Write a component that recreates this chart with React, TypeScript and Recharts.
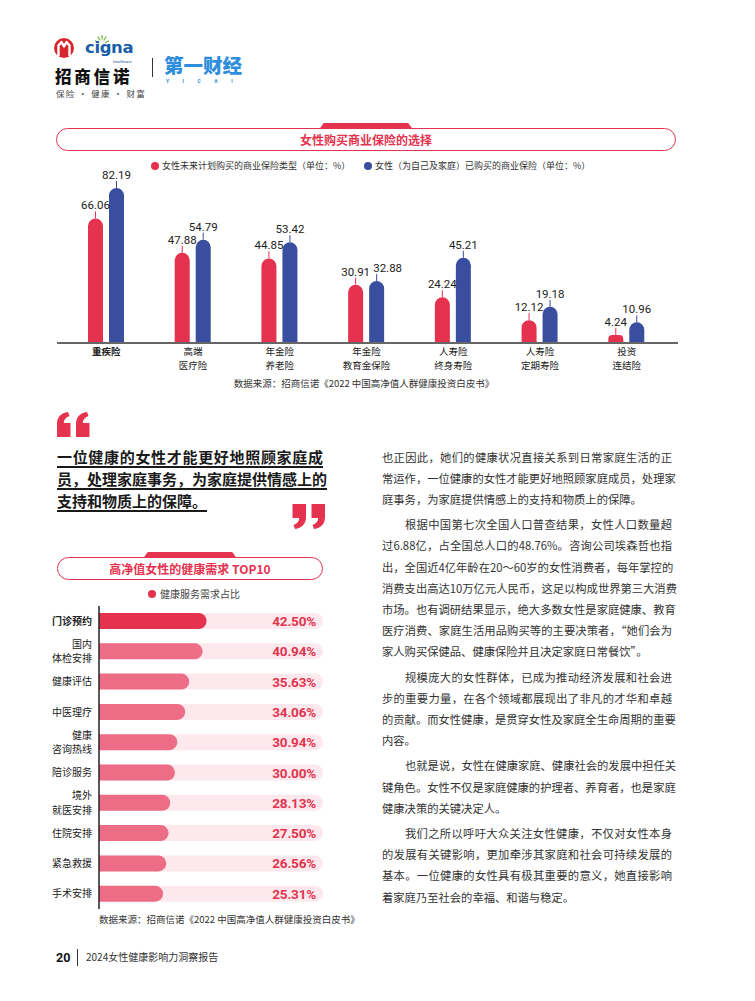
import React from 'react';
import { BarChart, Bar, XAxis, YAxis, Cell, LabelList } from 'recharts';

const CJK = "'Noto Sans CJK SC', 'Noto Sans', sans-serif";
const NUM = "Roboto, 'Noto Sans', sans-serif";
const RED = '#E5324F';
const BLUE = '#3A4E9F';
const PINK = '#EE6D86';
const TRACK = '#FDE9ED';

// 女性购买商业保险的选择
const insuranceTypes = ['重疾险', '高端\n医疗险', '年金险\n养老险', '年金险\n教育金保险', '人寿险\n终身寿险', '人寿险\n定期寿险', '投资\n连结险'];
const planToBuy = [66.06, 47.88, 44.85, 30.91, 24.24, 12.12, 4.24];
const alreadyBought = [82.19, 54.79, 53.42, 32.88, 45.21, 19.18, 10.96];

// 高净值女性的健康需求 TOP10
const needs = ['门诊预约', '国内\n体检安排', '健康评估', '中医理疗', '健康\n咨询热线', '陪诊服务', '境外\n就医安排', '住院安排', '紧急救援', '手术安排'];
const needShares = [42.5, 40.94, 35.63, 34.06, 30.94, 30.0, 28.13, 27.5, 26.56, 25.31];

const bodyParas = [
  ['也正因此，她们的健康状况直接关系到日常家庭生活的正', '常运作，一位健康的女性才能更好地照顾家庭成员，处理家', '庭事务，为家庭提供情感上的支持和物质上的保障。'],
  ['根据中国第七次全国人口普查结果，女性人口数量超', '过6.88亿，占全国总人口的48.76%。咨询公司埃森哲也指', '出，全国近4亿年龄在20～60岁的女性消费者，每年掌控的', '消费支出高达10万亿元人民币，这足以构成世界第三大消费', '市场。也有调研结果显示，绝大多数女性是家庭健康、教育', '医疗消费、家庭生活用品购买等的主要决策者，“她们会为', '家人购买保健品、健康保险并且决定家庭日常餐饮”。'],
  ['规模庞大的女性群体，已成为推动经济发展和社会进', '步的重要力量，在各个领域都展现出了非凡的才华和卓越', '的贡献。而女性健康，是贯穿女性及家庭全生命周期的重要', '内容。'],
  ['也就是说，女性在健康家庭、健康社会的发展中担任关', '键角色。女性不仅是家庭健康的护理者、养育者，也是家庭', '健康决策的关键决定人。'],
  ['我们之所以呼吁大众关注女性健康，不仅对女性本身', '的发展有关键影响，更加牵涉其家庭和社会可持续发展的', '基本。一位健康的女性具有极其重要的意义，她直接影响', '着家庭乃至社会的幸福、和谐与稳定。'],
];

const quoteLines = ['一位健康的女性才能更好地照顾家庭成', '员，处理家庭事务，为家庭提供情感上的', '支持和物质上的保障。'];

const SOURCE = '数据来源：招商信诺《2022 中国高净值人群健康投资白皮书》';

const insuranceData = insuranceTypes.map((name, i) => ({ name, plan: planToBuy[i], bought: alreadyBought[i] }));
const needData = needs.map((name, i) => ({ name, share: needShares[i] }));

// text helper, y is the vertical centre
const T = ({ x, y, size, center, style, children }: any) => (
  <div
    style={{
      position: 'absolute', left: x, top: y, fontSize: size, lineHeight: 1.2,
      transform: center ? 'translate(-50%, -50%)' : 'translateY(-50%)',
      whiteSpace: 'nowrap', fontFamily: CJK, color: '#222', ...style,
    }}
  >
    {children}
  </div>
);

function ValueMark(props: any, color: string, nudge: boolean) {
  const { x, y, width, value, index } = props;
  const cx = x + width / 2;
  // the blue label moves right when both bars of a pair are about as tall
  const dx = nudge && Math.abs(planToBuy[index] - alreadyBought[index]) < 5 ? 11 : 0;
  return (
    <g>
      <line x1={cx} x2={cx} y1={y} y2={y - 7} stroke={color} strokeWidth={1} />
      <text x={cx + dx} y={y - 9} textAnchor="middle" fontSize={11.5} fill="#222" fontFamily={NUM}>
        {Number(value).toFixed(2)}
      </text>
    </g>
  );
}

function CategoryTick({ x, y, payload }: any) {
  const lines = String(payload.value).split('\n');
  const bold = payload.value === insuranceTypes[0];
  return (
    <text x={x} y={y + 12.3} textAnchor="middle" fontSize={9.5} fontFamily={CJK} fontWeight={bold ? 700 : 400} fill="#222">
      {lines.map((t, i) => (
        <tspan key={i} x={x} dy={i === 0 ? 0 : 13.9}>{t}</tspan>
      ))}
    </text>
  );
}

function NeedTick({ x, y, payload }: any) {
  const lines = String(payload.value).split('\n');
  const bold = payload.value === needs[0];
  const gap = 14.6;
  const start = y - ((lines.length - 1) * gap) / 2;
  return (
    <text x={x} y={start + 3.6} textAnchor="end" fontSize={10} fontFamily={CJK} fontWeight={bold ? 700 : 400} fill="#222">
      {lines.map((t, i) => (
        <tspan key={i} x={x} dy={i === 0 ? 0 : gap}>{t}</tspan>
      ))}
    </text>
  );
}

function QuoteMark({ left, top, flip }: any) {
  const drop = 'M0 25 L0 12 C0 5 4 1 11 0 L12.5 4 C8.5 5.5 6.8 8 6.8 11 L13.5 11 L13.5 25 Z';
  return (
    <svg style={{ position: 'absolute', left, top }} width={33} height={26} viewBox="0 0 33 26">
      <g fill={RED} transform={flip ? 'rotate(180 16.5 12.5)' : undefined}>
        <path d={drop} />
        <path d={drop} transform="translate(19 0)" />
      </g>
    </svg>
  );
}

function TitlePill({ left, width, top, title }: any) {
  const cx = left + width / 2;
  return (
    <>
      <div style={{ position: 'absolute', left: cx - 48, top: top - 5, width: 96, height: 8, background: RED, borderRadius: '4px 4px 0 0', clipPath: 'polygon(6% 0, 94% 0, 100% 100%, 0 100%)' }} />
      <div style={{ position: 'absolute', left, top, width, height: 23, border: `1.3px solid ${RED}`, borderRadius: 13, background: '#fff', boxSizing: 'border-box' }} />
      <T x={cx} y={top + 12} size={12} center style={{ color: RED, fontWeight: 700 }}>{title}</T>
    </>
  );
}

const Dot = ({ x, y, color }: any) => (
  <div style={{ position: 'absolute', left: x - 4, top: y - 4, width: 8, height: 8, borderRadius: 4, background: color }} />
);

function Header() {
  return (
    <>
      <svg style={{ position: 'absolute', left: 50, top: 34 }} width={100} height={34} viewBox="0 0 100 34">
        <circle cx={14} cy={14} r={10} fill="#D9262E" />
        <polyline points="8.5,22 8.5,11.5 11.5,8 14,12.5 16.5,8 19.5,11.5 19.5,22" fill="none" stroke="#fff" strokeWidth={2.4} strokeLinejoin="round" />
        <g stroke="#6BB33A" strokeWidth={1.2} strokeLinecap="round">
          <line x1={50} y1={6} x2={48} y2={3} />
          <line x1={52} y1={5} x2={52} y2={1.5} />
          <line x1={54} y1={6} x2={56} y2={3} />
          <line x1={48.5} y1={8.5} x2={45.5} y2={7} />
          <line x1={55.5} y1={8.5} x2={58.5} y2={7} />
        </g>
      </svg>
      <div style={{ position: 'absolute', left: 85, top: 40, fontSize: 16.5, fontWeight: 700, color: '#1A5EA8', fontFamily: "'DejaVu Sans', sans-serif", lineHeight: 1, letterSpacing: -0.4 }}>cigna</div>
      <div style={{ position: 'absolute', left: 113, top: 60, fontSize: 4, color: '#1A5EA8', fontFamily: 'Roboto', lineHeight: 1 }}>healthcare</div>
      <T x={55} y={77} size={16.5} style={{ fontWeight: 900, letterSpacing: 2.8, color: '#111' }}>招商信诺</T>
      <T x={56} y={92.5} size={8.5} style={{ letterSpacing: 1.2, color: '#444' }}>保险 · 健康 · 财富</T>
      <div style={{ position: 'absolute', left: 151.5, top: 58, width: 1, height: 19, background: '#333' }} />
      <T x={164} y={65} size={19.5} style={{ fontWeight: 900, color: '#2F8EDB', letterSpacing: 0 }}>第一财经</T>
      <T x={166} y={80.5} size={5} style={{ color: '#2F8EDB', letterSpacing: 13.5, fontFamily: NUM, fontWeight: 700 }}>YICAI</T>
    </>
  );
}

function BodyText() {
  const rows: any[] = [];
  let y = 456.5;
  bodyParas.forEach((para, p) => {
    para.forEach((line, i) => {
      const last = i === para.length - 1;
      const first = i === 0 && p > 0;
      rows.push(
        <div key={`${p}-${i}`} style={{
          position: 'absolute', left: first ? 405 : 382, top: y - 8, width: first ? 267 : 290,
          fontSize: 11.3, lineHeight: '16px', fontFamily: CJK, color: '#333',
          textAlign: 'justify', textAlignLast: last ? 'left' : 'justify', whiteSpace: 'nowrap',
        }}>{line}</div>
      );
      y += 21.2;
    });
    y += 4;
  });
  return <>{rows}</>;
}

export default function App() {
  return (
    <div style={{ position: 'relative', width: 755, height: 1001, background: '#fff', overflow: 'hidden', fontFamily: CJK }}>
      <style>{'body{margin:0}'}</style>
      <Header />

      {/* chart 1 */}
      <TitlePill left={56} width={620} top={128} title="女性购买商业保险的选择" />
      <Dot x={155} y={166} color={RED} />
      <T x={162} y={166} size={9} style={{ color: '#333' }}>女性未来计划购买的商业保险类型（单位：%）</T>
      <Dot x={368} y={166} color={BLUE} />
      <T x={375} y={166} size={9} style={{ color: '#333' }}>女性（为自己及家庭）已购买的商业保险（单位：%）</T>
      <div style={{ position: 'absolute', left: 40, top: 150 }}>
        <BarChart width={660} height={240} data={insuranceData} margin={{ top: 4.5, right: 22, bottom: 0, left: 17 }} barSize={15} barGap={6}>
          <XAxis dataKey="name" height={47} interval={0} padding={{ left: 6, right: 8 }} tickLine={false} tickSize={0} tickMargin={0}
            axisLine={{ stroke: '#666', strokeWidth: 2 }} tick={<CategoryTick />} />
          <YAxis hide domain={[0, 100]} />
          <Bar dataKey="plan" fill={RED} radius={[7.5, 7.5, 0, 0]} isAnimationActive={false}>
            <LabelList dataKey="plan" content={(p: any) => ValueMark(p, RED, false)} />
          </Bar>
          <Bar dataKey="bought" fill={BLUE} radius={[7.5, 7.5, 0, 0]} isAnimationActive={false}>
            <LabelList dataKey="bought" content={(p: any) => ValueMark(p, BLUE, true)} />
          </Bar>
        </BarChart>
      </div>
      <T x={364} y={384} size={9.5} center style={{ color: '#333' }}>{SOURCE}</T>

      {/* quote */}
      <QuoteMark left={57} top={412} />
      {quoteLines.map((line, i) => (
        <div key={i} style={{
          position: 'absolute', left: 57, top: 457 + i * 22 - 10, width: i < 2 ? 266 : undefined,
          fontSize: 15, lineHeight: '20px', fontWeight: 700, color: '#1a1a1a', fontFamily: CJK,
          textAlign: 'justify', textAlignLast: i < 2 ? 'justify' : 'left', whiteSpace: 'nowrap',
          textDecoration: 'underline', textDecorationThickness: '1.5px', textUnderlineOffset: '3px',
        }}>{line}</div>
      ))}
      <QuoteMark left={292} top={504} flip />

      <BodyText />

      {/* chart 2 */}
      <TitlePill left={57} width={266} top={557} title="高净值女性的健康需求 TOP10" />
      <Dot x={152} y={594} color={RED} />
      <T x={160} y={594} size={10} style={{ color: '#444' }}>健康服务需求占比</T>
      <div style={{ position: 'absolute', left: 40, top: 600 }}>
        <BarChart width={300} height={320} data={needData} layout="vertical" margin={{ top: 6, right: 17, bottom: 11, left: 0 }} barSize={16}>
          <XAxis type="number" hide domain={[0, 88.5]} />
          <YAxis type="category" dataKey="name" width={59} interval={0} tickLine={false} tickSize={0} tickMargin={7}
            axisLine={{ stroke: '#222', strokeWidth: 1.5 }} tick={<NeedTick />} />
          <Bar dataKey="share" radius={[0, 8, 8, 0]} background={{ fill: TRACK, radius: [0, 8, 8, 0] } as any} isAnimationActive={false}>
            {needData.map((_, i) => (
              <Cell key={i} fill={i === 0 ? RED : PINK} />
            ))}
            <LabelList dataKey="share" content={(p: any) => (
              <text x={276} y={p.y + p.height / 2 + 5} textAnchor="end" fontSize={13.5} fontWeight={700} letterSpacing={-0.2} fill="#E0354F" fontFamily={NUM}>
                {Number(p.value).toFixed(2)}%
              </text>
            )} />
          </Bar>
        </BarChart>
      </div>
      <T x={99} y={920} size={9.5} style={{ color: '#333' }}>{SOURCE}</T>

      {/* footer */}
      <T x={56} y={957} size={12.5} style={{ fontWeight: 700, fontFamily: NUM, color: '#111' }}>20</T>
      <div style={{ position: 'absolute', left: 77, top: 949, width: 1, height: 17, background: '#333' }} />
      <T x={86} y={957} size={10} style={{ color: '#333' }}>2024女性健康影响力洞察报告</T>
    </div>
  );
}
